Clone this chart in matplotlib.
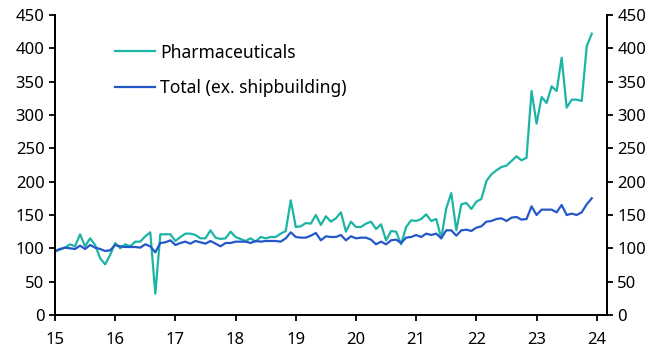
import numpy as np
import matplotlib
matplotlib.use("Agg")
import matplotlib.pyplot as plt

# monthly index, Jan 2015 .. Dec 2023
pharma = [95, 98, 101, 106, 103, 121, 103, 115, 105, 85, 76, 90,
          108, 100, 106, 103, 110, 110, 118, 124, 32, 121, 121, 121,
          111, 117, 122, 122, 120, 115, 115, 127, 116, 114, 115, 125,
          117, 114, 111, 115, 110, 117, 115, 117, 117, 122, 126, 172,
          132, 133, 138, 137, 150, 135, 148, 140, 145, 154, 125, 140,
          132, 132, 137, 140, 129, 136, 112, 126, 125, 106, 132, 142,
          141, 144, 151, 141, 144, 115, 160, 183, 127, 166, 168, 159,
          170, 174, 201, 211, 217, 222, 224, 231, 238, 232, 236, 336,
          287, 327, 318, 343, 336, 386, 311, 323, 323, 321, 403, 422]
total = [96, 99, 101, 100, 99, 104, 99, 105, 101, 99, 96, 97,
         105, 103, 102, 102, 102, 101, 106, 103, 94, 108, 109, 112,
         105, 108, 110, 107, 111, 109, 107, 111, 107, 103, 108, 108,
         110, 110, 110, 108, 111, 110, 111, 111, 111, 110, 115, 124,
         117, 116, 116, 119, 123, 112, 118, 117, 117, 120, 112, 118,
         115, 116, 116, 113, 106, 110, 106, 112, 113, 108, 116, 117,
         120, 117, 122, 120, 122, 115, 127, 127, 119, 127, 128, 126,
         131, 133, 140, 141, 144, 145, 141, 146, 147, 143, 144, 163,
         150, 158, 158, 158, 154, 165, 150, 152, 150, 154, 166, 175]

t = 2015 + np.arange(len(pharma)) / 12
years = list(range(2015, 2025))
year_labels = [str(y - 2000) for y in years]
yticks = list(range(0, 451, 50))

plt.rcParams['font.family'] = ['Noto Sans', 'DejaVu Sans']

fig = plt.figure(figsize=(6.6, 3.54), dpi=100)
ax = fig.add_axes([0.0833, 0.1102, 0.8364, 0.8475])

ax.plot(t, pharma, color='#1cb5a5', lw=1.6, label='Pharmaceuticals')
ax.plot(t, total, color='#2457c8', lw=1.6, label='Total (ex. shipbuilding)')

ax.set_xlim(2015, 2024.17)
ax.set_ylim(0, 450)
ax.set_xticks(years)
ax.set_xticklabels(year_labels)
ax.set_yticks(yticks)

ax2 = ax.twinx()
ax2.set_ylim(0, 450)
ax2.set_yticks(yticks)

for a in (ax, ax2):
    a.spines['top'].set_visible(False)
    for s in a.spines.values():
        s.set_linewidth(1.3)
    a.tick_params(labelsize=12, width=1.3, length=4, direction='out')
ax.tick_params(axis='x', pad=8)

ax.legend(loc='upper left', bbox_to_anchor=(0.08, 0.957), frameon=False,
          fontsize=12.6, handlelength=2.3, handletextpad=0.3, labelspacing=1.02)

plt.savefig('out.png', dpi=100)
